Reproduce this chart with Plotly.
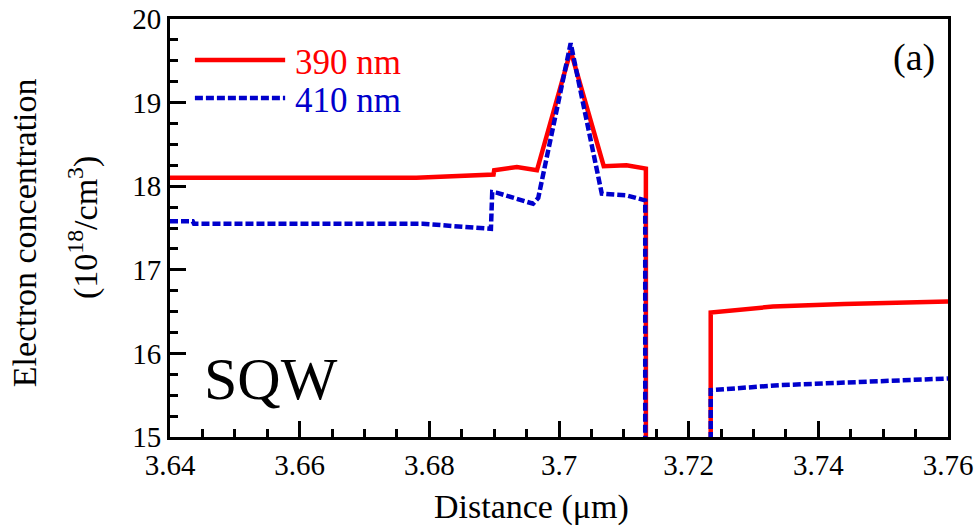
import plotly.graph_objects as go

# ---- data ----
x_390 = [3.640, 3.678, 3.6899, 3.6900, 3.6935, 3.6966, 3.7018, 3.7069, 3.7104, 3.7134, 3.7134,
         3.7234, 3.7234, 3.7330, 3.7440, 3.7600]
y_390 = [18.10, 18.10, 18.14, 18.19, 18.23, 18.19, 19.62, 18.24, 18.25, 18.21, 14.0,
         14.0, 16.49, 16.56, 16.59, 16.62]

x_410 = [3.640, 3.6435, 3.6437, 3.6790, 3.6895, 3.6897, 3.6905, 3.6945, 3.6960, 3.6968, 3.7018,
         3.7066, 3.7104, 3.7133, 3.7133, 3.7234, 3.7234, 3.7340, 3.7450, 3.7600]
y_410 = [17.58, 17.58, 17.55, 17.55, 17.49, 17.93, 17.92, 17.83, 17.79, 17.86, 19.71,
         17.91, 17.89, 17.83, 14.0, 14.0, 15.56, 15.62, 15.65, 15.70]

series_names = ["390 nm", "410 nm"]
x_tickvals = [3.64, 3.66, 3.68, 3.70, 3.72, 3.74, 3.76]
x_ticktext = ["3.64", "3.66", "3.68", "3.7", "3.72", "3.74", "3.76"]
y_tickvals = [15, 16, 17, 18, 19, 20]

RED = "#FF0000"
BLUE = "#0000CC"
FONT = "Liberation Serif, Times New Roman, serif"
BLUE_DASH = "8px,3px"

fig = go.Figure()
fig.add_trace(go.Scatter(x=x_390, y=y_390, mode="lines", name=series_names[0],
                         line=dict(color=RED, width=4.5), showlegend=False))
fig.add_trace(go.Scatter(x=x_410, y=y_410, mode="lines", name=series_names[1],
                         line=dict(color=BLUE, width=4.5, dash=BLUE_DASH), showlegend=False))

axis_common = dict(
    showgrid=False, zeroline=False, showline=True, linecolor="black", linewidth=3,
    mirror=True, ticks="inside", tickcolor="black", tickwidth=2.5, automargin=False,
    tickfont=dict(family=FONT, size=29, color="black"),
)
fig.update_xaxes(range=[3.64, 3.76], tickvals=x_tickvals, ticktext=x_ticktext, ticklen=16,
                 minor=dict(ticks="inside", ticklen=8, tickwidth=2.5, dtick=0.005, tick0=3.64,
                            tickcolor="black"),
                 **axis_common)
fig.update_yaxes(range=[15, 20], tickvals=y_tickvals, ticklen=16,
                 minor=dict(ticks="inside", ticklen=8, tickwidth=2.5, dtick=0.25, tick0=15,
                            tickcolor="black"),
                 **axis_common)

def note(text, x, y, size, color="black", xanchor="center", angle=0):
    return dict(text=text, x=x, y=y, xref="paper", yref="paper", showarrow=False,
                xanchor=xanchor, yanchor="middle", textangle=angle,
                font=dict(family=FONT, size=size, color=color))

ann = [
    note("Distance (\u03bcm)", 0.465, -0.167, 34),
    note("Electron concentration", -0.1877, 0.49, 34, angle=-90),
    note("(10<sup>18</sup>/cm<sup>3</sup>)", -0.112, 0.502, 34, angle=-90),
    note("SQW", 0.13, 0.139, 60),
    note("(a)", 0.956, 0.907, 38),
    note(series_names[0], 0.158, 0.895, 35, color=RED, xanchor="left"),
    note(series_names[1], 0.158, 0.806, 35, color=BLUE, xanchor="left"),
]

shapes = [
    dict(type="line", xref="paper", yref="paper", x0=0.032, x1=0.148, y0=0.902, y1=0.902,
         line=dict(color=RED, width=4.5)),
    dict(type="line", xref="paper", yref="paper", x0=0.032, x1=0.148, y0=0.811, y1=0.811,
         line=dict(color=BLUE, width=4.5, dash=BLUE_DASH)),
]

fig.update_layout(
    width=980, height=528,
    margin=dict(l=170, r=32, t=19, b=91, autoexpand=False),
    paper_bgcolor="white", plot_bgcolor="white",
    annotations=ann, shapes=shapes, showlegend=False,
    font=dict(family=FONT, color="black"),
)

fig.write_html("out.html")
